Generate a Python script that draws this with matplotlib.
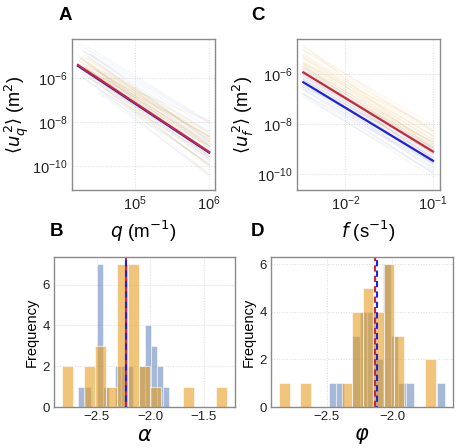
import numpy as np
import matplotlib.pyplot as plt
from matplotlib.ticker import NullLocator

plt.rcParams['font.family'] = ['Liberation Sans', 'DejaVu Sans']
plt.rcParams['mathtext.fontset'] = 'dejavusans'

# --- histogram data (15 bins each, range = first/last bin edge) ---
alpha_or_range = (-2.824, -1.287)
alpha_or_counts = [2, 0, 2, 3, 1, 7, 7, 2, 1, 0, 0, 1, 0, 0, 1]
alpha_bl_range = (-2.672, -1.825)
alpha_bl_counts = [1, 1, 0, 7, 1, 0, 2, 2, 2, 0, 2, 4, 3, 2, 1]

phi_or_range = (-2.864, -1.669)
phi_or_counts = [1, 0, 1, 0, 0, 0, 1, 4, 5, 4, 6, 3, 0, 0, 2]
phi_bl_range = (-2.487, -1.600)
phi_bl_counts = [1, 1, 0, 3, 4, 4, 2, 6, 3, 1, 1, 0, 0, 0, 1]

# mean exponents (dashed lines and thick lines)
alpha_mean_red = -2.232
alpha_mean_blue = -2.226
phi_mean_red = -2.135
phi_mean_blue = -2.118

# thick lines: log10 level at the last point
A_red_end = -9.36
A_blue_end = -9.39
C_red_end = -9.10
C_blue_end = -9.47

A_q_range = (1.7e4, 1e6)
C_f_range = (3.3e-3, 1e-1)

# thin lines: log10 level at q=1e5 (A) / f=1e-2 (C), in order of sorted exponent
A_mid_or = [-7.3, -7.6, -7.0, -7.4, -6.9, -7.2, -7.5, -6.8, -6.5, -6.7, -6.9, -7.1, -6.6, -7.3,
            -6.8, -6.4, -6.6, -6.9, -6.7, -7.0, -6.5, -7.2, -6.6, -6.9, -6.7, -6.8, -6.6]
A_mid_bl = [-7.8, -7.0, -7.5, -6.6, -7.2, -6.9, -7.9, -6.4, -7.3, -7.1, -6.5, -7.6, -6.8, -7.4,
            -6.3, -7.7, -5.9, -7.0, -6.2, -7.3, -6.9, -6.0, -7.5, -6.7, -6.1, -7.2, -6.5, -6.8]
A_start_or = [4.23, 4.28, 4.35, 4.25, 4.50, 4.31, 4.62, 4.27, 4.40, 4.24, 4.55, 4.33, 4.29, 4.45,
              4.26, 4.38, 4.70, 4.30, 4.24, 4.48, 4.35, 4.27, 4.58, 4.32, 4.25, 4.42, 4.36]
A_start_bl = [4.30, 4.45, 4.25, 4.60, 4.35, 4.28, 4.52, 4.40, 4.24, 4.66, 4.33, 4.27, 4.48, 4.38,
              4.31, 4.55, 4.36, 4.43, 4.29, 4.62, 4.36, 4.25, 4.50, 4.34, 4.41, 4.28, 4.57, 4.32]
C_mid_or = [-6.2, -6.9, -6.5, -6.0, -6.8, -7.1, -6.4, -6.6, -6.3, -7.0, -6.7, -6.1, -6.5, -6.9,
            -6.4, -6.8, -6.2, -7.2, -6.6, -6.3, -6.7, -6.0, -6.9, -6.5, -6.8, -6.4, -7.0]
C_mid_bl = [-7.4, -7.0, -7.7, -7.2, -6.9, -7.5, -7.9, -7.1, -7.3, -6.8, -7.6, -7.4, -7.0, -7.8,
            -7.2, -6.7, -7.5, -7.3, -7.9, -7.1, -6.9, -7.6, -7.4, -7.2, -7.0, -7.7, -7.3]

ORANGE = '#e69d21'
BLUE = '#4c72b0'
RED_LINE = '#c8283c'
BLUE_LINE = '#2020e0'
SPINE = '#8a8a8a'


def bins(rng, counts):
    edges = np.linspace(rng[0], rng[1], len(counts) + 1)
    return edges, (edges[:-1] + edges[1:]) / 2


def exponents(rng, counts):
    _, c = bins(rng, counts)
    return np.repeat(c, counts)


def style(ax, labelsize):
    for s in ax.spines.values():
        s.set_color(SPINE)
        s.set_linewidth(1.0)
    ax.tick_params(length=0, pad=3, labelsize=labelsize, colors='#222222')
    ax.grid(True, color='#dcdcdc', ls=':', lw=0.7)
    ax.set_axisbelow(True)


def power_panel(ax, x0, xmid, xend, starts, mids_or, mids_bl, exp_or, exp_bl,
                red_slope, red_end, blue_slope, blue_end):
    for i, (m, a) in enumerate(zip(mids_bl, exp_bl)):
        xs = np.array([10 ** starts[1][i] if starts else x0, xend])
        ax.plot(xs, 10 ** (m + a * (np.log10(xs) - xmid)), color=BLUE, alpha=0.07, lw=0.8)
    for i, (m, a) in enumerate(zip(mids_or, exp_or)):
        xs = np.array([10 ** starts[0][i] if starts else x0, xend])
        ax.plot(xs, 10 ** (m + a * (np.log10(xs) - xmid)), color=ORANGE, alpha=0.09, lw=0.8)
    xs = np.array([x0, xend])
    le = np.log10(xend)
    ax.plot(xs, 10 ** (blue_end + blue_slope * (np.log10(xs) - le)), color=BLUE_LINE, lw=1.6)
    ax.plot(xs, 10 ** (red_end + red_slope * (np.log10(xs) - le)), color=RED_LINE, lw=1.6)
    ax.set_xscale('log')
    ax.set_yscale('log')
    ax.set_yticks([1e-10, 1e-8, 1e-6])
    ax.xaxis.set_minor_locator(NullLocator())
    ax.yaxis.set_minor_locator(NullLocator())
    style(ax, 10.5)


def hist_panel(ax, rng_bl, cnt_bl, rng_or, cnt_or, m_red, m_blue, xlabel, xticks):
    for rng, cnt, col, a in [(rng_bl, cnt_bl, BLUE, 0.5), (rng_or, cnt_or, ORANGE, 0.6)]:
        edges, mids = bins(rng, cnt)
        ax.hist(mids, bins=edges, weights=cnt, color=col, alpha=a,
                edgecolor='white', linewidth=0.8)
    ax.axvline(m_red, color=RED_LINE, ls=(0, (3, 2)), lw=1.5)
    ax.axvline(m_blue, color=BLUE_LINE, ls=(2.5, (3, 2)), lw=1.5)
    ax.set_xticks(xticks)
    ax.set_yticks([0, 2, 4, 6])
    style(ax, 9.5)
    ax.set_ylabel('Frequency', fontsize=10.5, labelpad=3)
    ax.set_xlabel(xlabel, fontsize=15, labelpad=2)


fig = plt.figure(figsize=(4.6, 4.48), dpi=100)
W, H = 460, 448


def add_ax(l, r, t, b):
    return fig.add_axes([l / W, (H - b) / H, (r - l) / W, (b - t) / H])


axA = add_ax(72, 215, 39, 190)
axC = add_ax(297, 440, 39, 190)
axB = add_ax(54, 235, 257, 407)
axD = add_ax(271, 453, 257, 407)

power_panel(axA, A_q_range[0], 5, A_q_range[1], (A_start_or, A_start_bl), A_mid_or, A_mid_bl,
            exponents(alpha_or_range, alpha_or_counts), exponents(alpha_bl_range, alpha_bl_counts),
            alpha_mean_red, A_red_end, alpha_mean_blue, A_blue_end)
axA.set_xticks([1e5, 1e6])
axA.xaxis.set_minor_locator(NullLocator())
axA.set_xlim(10 ** 4.15, 10 ** 6.08)
axA.set_ylim(10 ** -11.09, 10 ** -4.23)
axA.set_ylabel(r'$\langle u_q^{\,2}\rangle$ (m$^2$)', fontsize=13, labelpad=1)
axA.set_xlabel(r'$q$ (m$^{-1}$)', fontsize=13.5, labelpad=4)

power_panel(axC, C_f_range[0], -2, C_f_range[1], None, C_mid_or, C_mid_bl,
            exponents(phi_or_range, phi_or_counts), exponents(phi_bl_range, phi_bl_counts),
            phi_mean_red, C_red_end, phi_mean_blue, C_blue_end)
axC.set_xticks([1e-2, 1e-1])
axC.xaxis.set_minor_locator(NullLocator())
axC.set_xlim(10 ** -2.554, 10 ** -0.92)
axC.set_ylim(10 ** -10.64, 10 ** -4.6)
axC.set_ylabel(r'$\langle u_f^{\,2}\rangle$ (m$^2$)', fontsize=13, labelpad=1)
axC.set_xlabel(r'$f$ (s$^{-1}$)', fontsize=13.5, labelpad=4)

hist_panel(axB, alpha_bl_range, alpha_bl_counts, alpha_or_range, alpha_or_counts,
           alpha_mean_red, alpha_mean_blue, r'$\alpha$', [-2.5, -2.0, -1.5])
hist_panel(axD, phi_bl_range, phi_bl_counts, phi_or_range, phi_or_counts,
           phi_mean_red, phi_mean_blue, r'$\varphi$', [-2.5, -2.0])

for lab, x, y in [('A', 65, 16), ('C', 258, 16), ('B', 57, 231), ('D', 258, 231)]:
    fig.text(x / W, 1 - y / H, lab, fontsize=13.5, fontweight='bold', ha='center', va='center')

fig.savefig('out.png', dpi=100)
